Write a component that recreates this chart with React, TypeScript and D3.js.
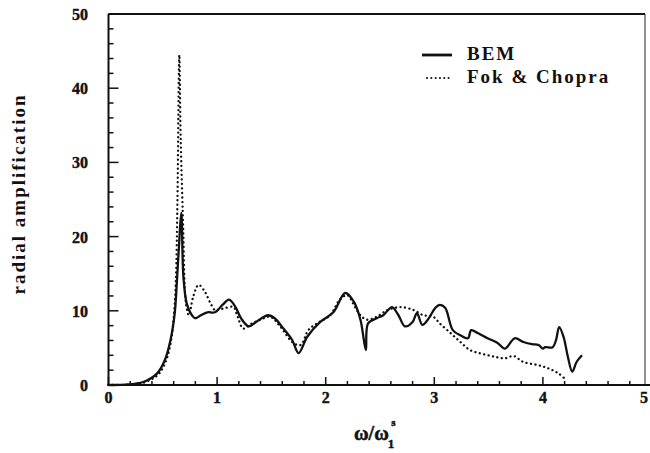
import React from "react";
import * as d3 from "d3";

const xTicks = [0, 1, 2, 3, 4, 5];
const yTicks = [0, 10, 20, 30, 40, 50];

const bemX = [0, 0.15, 0.32, 0.45, 0.52, 0.57, 0.61, 0.63, 0.65, 0.67, 0.69, 0.72, 0.76, 0.8, 0.85, 0.91, 0.98, 1.05, 1.11, 1.17, 1.22, 1.29, 1.35, 1.41, 1.47, 1.53, 1.6, 1.69, 1.75, 1.83, 1.95, 2.07, 2.18, 2.26, 2.32, 2.37, 2.39, 2.47, 2.53, 2.61, 2.67, 2.73, 2.8, 2.84, 2.89, 2.94, 3.01, 3.05, 3.1, 3.17, 3.24, 3.31, 3.34, 3.4, 3.49, 3.58, 3.65, 3.74, 3.82, 3.9, 3.96, 4.0, 4.02, 4.09, 4.12, 4.15, 4.19, 4.23, 4.27, 4.31, 4.36];
const bemY = [0, 0.05, 0.4, 1.6, 3.4, 6, 9.7, 14, 19, 23.2, 14.5, 11, 9.6, 9.0, 9.4, 9.8, 9.8, 10.8, 11.5, 10.5, 9.0, 7.9, 8.4, 9.0, 9.4, 9.0, 7.8, 6.1, 4.3, 6.5, 8.5, 9.8, 12.4, 11.2, 8.8, 4.7, 8.3, 9.0, 9.4, 10.5, 9.4, 7.9, 8.5, 9.7, 8.1, 8.8, 10.4, 10.8, 10.4, 7.4, 6.7, 6.3, 7.4, 7.0, 6.3, 5.7, 4.9, 6.3, 5.8, 5.5, 5.4, 4.9, 5.1, 5.1, 6.0, 7.8, 6.5, 3.8, 1.8, 3.1, 4.0];

const fokX = [0, 0.2, 0.3, 0.45, 0.52, 0.57, 0.6, 0.62, 0.635, 0.652, 0.665, 0.69, 0.7, 0.715, 0.74, 0.78, 0.83, 0.89, 0.94, 0.98, 1.03, 1.08, 1.15, 1.19, 1.24, 1.32, 1.4, 1.49, 1.58, 1.7, 1.77, 1.84, 1.92, 2.04, 2.13, 2.2, 2.27, 2.32, 2.38, 2.47, 2.57, 2.69, 2.81, 2.9, 2.99, 3.05, 3.15, 3.24, 3.33, 3.44, 3.56, 3.65, 3.73, 3.82, 3.95, 4.04, 4.14, 4.22];
const fokY = [0, 0.05, 0.2, 1.3, 2.9, 5.5, 9, 14, 25, 44.5, 33, 20, 14, 10.8, 9.4, 11.9, 13.5, 12.5, 11, 10.1, 10.2, 10.4, 10.5, 9.2, 7.6, 8.3, 8.8, 9.2, 7.9, 5.7, 5.4, 7.4, 8.3, 9.4, 11.5, 12.1, 10.5, 9.4, 8.8, 9.2, 10.1, 10.5, 10.1, 9.4, 9.2, 8.3, 7.0, 5.8, 4.7, 4.2, 3.8, 3.6, 3.9, 3.1, 2.7, 2.3, 1.6, 0.6];

const legendLabels = ["BEM", "Fok & Chopra"];

export default function App() {
  const W = 650, H = 453;
  const x = d3.scaleLinear().domain([0, 5]).range([108.5, 651.5]);
  const y = d3.scaleLinear().domain([0, 50]).range([385, 14]);
  const left = x(0), right = 645, top = y(50), bottom = y(0);

  const line = d3
    .line<[number, number]>()
    .x((d) => x(d[0]))
    .y((d) => y(d[1]))
    .curve(d3.curveCatmullRom.alpha(0.5));

  const bem = bemX.map((v, i) => [v, bemY[i]] as [number, number]);
  const fok = fokX.map((v, i) => [v, fokY[i]] as [number, number]);

  const xMinor = d3.range(0, 5.0001, 0.2);
  const yMinor = d3.range(0, 50.0001, 2);
  const font = "'Liberation Serif', 'DejaVu Serif', serif";

  return (
    <svg
      width={W}
      height={H}
      style={{ position: "absolute", left: 0, top: 0, background: "#fff" }}
      fontFamily={font}
    >
      <rect x={0} y={0} width={W} height={H} fill="#fff" />
      {/* frame */}
      <line x1={left} y1={top} x2={right} y2={top} stroke="#111" strokeWidth={2} />
      <line x1={right} y1={top} x2={right} y2={bottom} stroke="#222" strokeWidth={1} />
      <line x1={left} y1={top} x2={left} y2={bottom + 1} stroke="#111" strokeWidth={2} />
      <line x1={left - 1} y1={bottom} x2={x(5)} y2={bottom} stroke="#111" strokeWidth={2} />

      {/* y ticks */}
      {yMinor.map((v) => {
        const major = Math.abs(v % 10) < 1e-6;
        return (
          <line key={"ym" + v} x1={left} x2={left + (major ? 10 : 5)} y1={y(v)} y2={y(v)} stroke="#111" strokeWidth={1.5} />
        );
      })}
      {yTicks.map((v) => (
        <text key={"yt" + v} x={88} y={y(v) + 6} textAnchor="end" fontSize={16} fontWeight="bold" fill="#111" stroke="#111" strokeWidth={0.4}>
          {v}
        </text>
      ))}

      {/* x ticks */}
      {xMinor.map((v) => {
        const major = Math.abs(v - Math.round(v)) < 1e-6;
        return (
          <line key={"xm" + v.toFixed(1)} x1={x(v)} x2={x(v)} y1={bottom} y2={bottom - (major ? 8 : 4)} stroke="#111" strokeWidth={1.5} />
        );
      })}
      {xTicks.map((v) => (
        <text key={"xt" + v} x={Math.min(x(v), 644)} y={403} textAnchor="middle" fontSize={16} fontWeight="bold" fill="#111" stroke="#111" strokeWidth={0.4}>
          {v}
        </text>
      ))}

      {/* curves */}
      <path d={line(fok) || ""} fill="none" stroke="#111" strokeWidth={2.3} strokeDasharray="0.1 4.4" strokeLinecap="round" />
      <path d={line(bem) || ""} fill="none" stroke="#111" strokeWidth={2.3} strokeLinejoin="round" />

      {/* legend */}
      <line x1={422} x2={452} y1={55} y2={55} stroke="#111" strokeWidth={2.8} />
      <line x1={427} x2={450} y1={78} y2={78} stroke="#111" strokeWidth={2} strokeDasharray="0.1 4.2" strokeLinecap="round" />
      <text x={467} y={60} fontSize={19} fontWeight="bold" letterSpacing={2} fill="#111">
        {legendLabels[0]}
      </text>
      <text x={467} y={83} fontSize={19} fontWeight="bold" letterSpacing={2} fill="#111">
        {legendLabels[1]}
      </text>

      {/* axis titles */}
      <text
        transform={`translate(25,194) rotate(-90)`}
        textAnchor="middle"
        fontSize={19}
        fontWeight="bold"
        letterSpacing={2}
        fill="#111"
      >
        radial  amplification
      </text>
      <text x={354} y={440} fontSize={20} fontWeight="bold" fill="#111" stroke="#111" strokeWidth={0.5}>
        ω/ω
        <tspan dx={-1} dy={8} fontSize={13}>1</tspan>
        <tspan dx={-3} dy={-22} fontSize={11}>s</tspan>
      </text>
    </svg>
  );
}
